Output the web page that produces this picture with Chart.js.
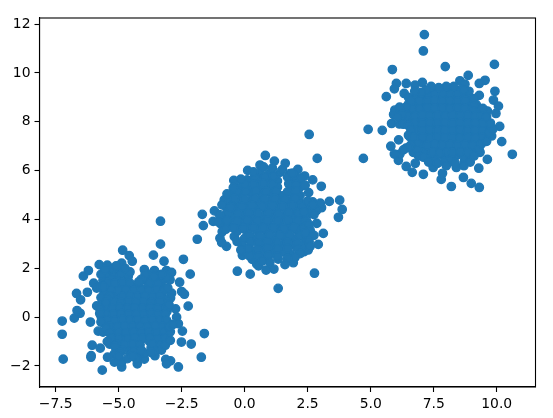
<!DOCTYPE html>
<html>
<head>
<meta charset="utf-8">
<style>
  html, body { margin: 0; padding: 0; background: #fff; }
  canvas { display: block; }
</style>
<script src="https://cdn.jsdelivr.net/npm/chart.js@4/dist/chart.umd.min.js"></script>
</head>
<body>
<canvas id="chart" width="553" height="418"></canvas>
<script>
// points, [x, y], one list per blob
const blobLowerEdge = [
  [-3.34,3.93],[-3.34,2.99],[-3.62,2.54],[-3.2,2.29],[-2.43,2.37],[-2.16,1.76],[-2.58,1.43],[-2.5,1.05],
  [-2.39,0.94],[-2.24,0.45],[-2.74,0.34],[-2.7,0],[-2.63,-0.27],[-2.47,-0.57],[-1.6,-0.67],[-2.51,-1.02],
  [-2.12,-1.1],[-1.72,-1.64],[-2.63,-2.04],[-2.94,-1.79],[-3.13,-1.73],[-3.1,-1.91],[-3.56,-1.58],[-3.98,-1.72],
  [-4.26,-1.91],[-4.88,-2.04],[-4.88,-1.84],[-5.17,-1.84],[-5.17,-1.51],[-5.44,-1.64],[-5.65,-2.17],[-6.1,-1.64],
  [-6.09,-1.58],[-5.73,-1.27],[-6.05,-1.15],[-5.36,-1.1],[-7.2,-1.72],[-7.24,-0.7],[-7.24,-0.16],[-6.76,-0.04],
  [-6.53,0.16],[-6.65,0.27],[-6.12,-0.2],[-5.81,-0.57],[-5.62,-0.61],[-5.87,0.46],[-5.63,0.63],[-6.51,0.71],
  [-6.67,0.97],[-6.24,1.02],[-5.99,1.39],[-5.87,1.19],[-6.4,1.68],[-6.2,1.91],[-5.77,2.15],[-5.45,2.13],
  [-4.88,2.21],[-4.84,2.74],[-4.58,2.52],[-4.46,2.29],[-3.98,1.95],[-3.58,1.91],[-3.1,1.91],[-2.9,1.83],
  [-2.96,1.53],[-3.23,1.53],[-2.9,0.98],[-2.94,0.78],[-4.68,1.8]
];
const blobLowerCore = [
  [-5.3,1.92],[-5.02,1.88],[-5.5,1.72],[-5.18,1.68],[-4.92,1.74],[-4.62,1.66],[-5.62,1.5],[-5.28,1.53],[-5.03,1.47],
  [-4.7,1.44],[-3.92,1.52],[-3.61,1.48],[-3.32,1.54],[-5.42,1.26],[-5.1,1.22],[-4.81,1.27],[-4.49,1.24],[-4.2,1.3],
  [-3.88,1.21],[-3.6,1.27],[-3.31,1.23],[-5.58,1.02],[-5.2,0.98],[-4.92,1.04],[-4.58,0.97],[-4.3,1.03],[-4.02,0.96],
  [-3.7,1.02],[-3.42,0.97],[-5.02,0.76],[-4.71,0.73],[-4.39,0.78],[-4.1,0.72],[-3.79,0.77],[-3.5,0.73],[-3.18,0.76],
  [-5.41,0.52],[-5.09,0.47],[-4.8,0.53],[-4.52,0.48],[-4.18,0.51],[-3.9,0.47],[-3.59,0.53],[-3.2,0.48],[-5.6,0.23],
  [-5.3,0.28],[-4.98,0.22],[-4.71,0.27],[-4.42,0.23],[-4.09,0.28],[-3.81,0.22],[-3.38,0.27],[-3.08,0.24],[-5.69,0.02],
  [-5.38,-0.03],[-5.11,0.03],[-4.79,-0.02],[-4.51,0.02],[-4.2,-0.03],[-3.91,0.02],[-3.6,-0.02],[-3.31,0.03],[-5.58,-0.24],
  [-5.32,-0.28],[-4.99,-0.23],[-4.69,-0.27],[-4.41,-0.22],[-4.11,-0.28],[-3.79,-0.23],[-3.52,-0.27],[-3.09,-0.24],[-2.95,-0.32],
  [-5.2,-0.48],[-4.88,-0.53],[-4.61,-0.47],[-4.29,-0.52],[-4.01,-0.48],[-3.69,-0.53],[-3.41,-0.47],[-5.1,-0.74],[-4.81,-0.78],
  [-4.49,-0.72],[-4.21,-0.77],[-3.89,-0.73],[-3.61,-0.78],[-3.29,-0.74],[-5.19,-0.98],[-4.91,-1.03],[-4.59,-0.97],[-4.31,-1.02],
  [-3.79,-0.98],[-3.52,-1.03],[-3.2,-0.99],[-4.71,-1.23],[-4.29,-1.27],[-3.71,-1.24],[-3.41,-1.22],[-4.52,-1.48],[-4.19,-1.52],[-3.95,-1.47]
];
const blobLowerFill = [
  [-5.45,1.41],[-5.15,1.38],[-4.85,1.42],[-4.55,1.39],[-3.75,1.41],[-3.45,1.38],[-5.3,1.11],[-5,1.08],[-4.7,1.12],
  [-4.4,1.09],[-4.1,1.11],[-3.8,1.08],[-3.5,1.12],[-3.2,1.09],[-5.35,0.87],[-4.85,0.84],[-4.55,0.88],[-4.25,0.85],
  [-3.95,0.87],[-3.65,0.84],[-3.35,0.88],[-5.2,0.62],[-4.9,0.6],[-4.6,0.64],[-4.3,0.61],[-4,0.63],[-3.7,0.6],
  [-3.35,0.64],[-3.05,0.6],[-5.5,0.38],[-5.25,0.35],[-4.95,0.39],[-4.65,0.36],[-4.35,0.38],[-4.05,0.35],[-3.75,0.39],
  [-3.45,0.36],[-3.1,0.38],[-5.5,0.12],[-5.2,0.1],[-4.9,0.14],[-4.6,0.11],[-4.3,0.13],[-4,0.1],[-3.7,0.14],
  [-3.45,0.11],[-3.15,0.12],[-5.45,-0.12],[-5.15,-0.14],[-4.85,-0.1],[-4.55,-0.13],[-4.25,-0.11],[-3.95,-0.14],[-3.65,-0.1],
  [-3.35,-0.13],[-3.1,-0.12],[-5.35,-0.38],[-5.05,-0.4],[-4.75,-0.36],[-4.45,-0.39],[-4.15,-0.37],[-3.85,-0.4],[-3.55,-0.36],
  [-3.25,-0.39],[-5,-0.62],[-4.7,-0.64],[-4.4,-0.6],[-4.1,-0.63],[-3.8,-0.61],[-3.5,-0.64],[-3.2,-0.6],[-5,-0.87],
  [-4.65,-0.89],[-4.35,-0.85],[-4.05,-0.88],[-3.75,-0.86],[-3.45,-0.89],[-3.15,-0.85],[-5.05,-1.12],[-4.75,-1.14],[-4.45,-1.1],
  [-4.15,-1.13],[-3.65,-1.11],[-3.35,-1.14],[-4.85,-1.37],[-4.4,-1.39],[-4.1,-1.35],[-3.55,-1.38],[-3.75,1.75],[-3.4,1.72],
  [-3.2,1.76],[-5.2,2]
];
const blobLowerRim = [
  [-5.7,1.75],[-5.55,1.95],[-5.75,1.25],[-5.6,1.25],[-5.7,0.8],[-5.45,0.75],[-5.5,0.6],[-5.75,0.35],[-5.75,0.15],
  [-5.7,-0.2],[-5.5,-0.45],[-5.35,-0.65],[-5.3,-0.85],[-5.45,-1],[-5.15,-1.2],[-4.95,-1.45],[-5,-1.6],[-4.65,-1.7],
  [-4.3,-1.7],[-4.45,-1.6],[-3.7,-1.45],[-3.3,-1.35],[-3.15,-1.15],[-2.95,-0.95],[-2.95,-0.6],[-3,-0.4],[-2.85,-0.3],
  [-3,0.5],[-3.05,1.2],[-3.1,1.65],[-3.3,1.75],[-3.6,1.65],[-3.95,1.75],[-4.1,1.55],[-4.2,1.45],[-4.55,1.85],[-4.75,2],[-5.1,2.1]
];
const blobMiddleEdge = [
  [2.56,7.48],[2.88,6.5],[0.82,6.62],[1.18,6.39],[1.61,6.3],[2.11,6.05],[2.38,5.78],[2.7,5.62],[3.04,5.36],
  [2.54,5.1],[3.36,4.74],[3.77,4.79],[3.87,4.41],[3.72,4.09],[3.05,4.48],[2.86,3.84],[3.12,3.43],[2.92,2.98],
  [2.77,1.8],[1.33,1.18],[1.93,2.23],[1.33,2.38],[1.16,1.97],[0.85,1.93],[0.22,1.76],[-0.29,1.88],[0.48,2.17],
  [-0.09,2.53],[-0.72,2.9],[-0.91,3.05],[-0.98,3.23],[-0.89,3.5],[-0.41,3.3],[-1.88,3.19],[-1.64,3.75],[-1.25,3.92],
  [-1.68,4.21],[-1.2,4.35],[-0.81,4.8],[-0.43,5.6],[0.12,6.01],[0.61,6.23],[2.35,2.68],[2.52,2.75],[1.8,2.61]
];
const blobMiddleCore = [
  [0.6,5.92],[0.95,5.87],[1.4,5.93],[1.8,5.88],[0.1,5.62],[0.5,5.57],[0.9,5.63],[1.3,5.58],[1.9,5.61],[2.2,5.57],
  [-0.2,5.32],[0.2,5.27],[0.6,5.33],[1,5.28],[1.3,5.32],[1.9,5.28],[2.2,5.33],[-0.5,5.02],[-0.1,4.97],[0.3,5.03],
  [0.7,4.98],[1.1,5.02],[1.5,4.97],[1.9,5.03],[2.2,4.98],[-0.6,4.72],[-0.2,4.67],[0.2,4.73],[0.6,4.68],[1,4.72],
  [1.4,4.67],[1.8,4.73],[2.2,4.68],[2.7,4.72],[3,4.67],[-0.7,4.42],[-0.35,4.37],[0.05,4.43],[0.45,4.38],[0.85,4.42],
  [1.25,4.37],[1.65,4.43],[2.05,4.38],[2.5,4.42],[2.85,4.37],[-0.85,4.12],[-0.5,4.07],[-0.1,4.13],[0.3,4.08],[0.7,4.12],
  [1.1,4.07],[1.5,4.13],[1.9,4.08],[2.3,4.12],[-0.95,3.82],[-0.6,3.77],[-0.2,3.83],[0.2,3.78],[0.6,3.82],[1,3.77],
  [1.4,3.83],[1.8,3.78],[2.2,3.82],[-0.3,3.52],[0.1,3.47],[0.5,3.53],[0.9,3.48],[1.3,3.52],[1.7,3.47],[2.1,3.53],
  [0,3.22],[0.4,3.17],[0.8,3.23],[1.2,3.18],[1.6,3.22],[2,3.17],[2.4,3.23],[-0.1,2.97],[0.7,2.92],[1.1,2.98],
  [1.5,2.93],[1.9,2.97],[2.3,2.92],[0,2.67],[0.35,2.62],[0.75,2.68],[1.1,2.63],[1.5,2.67],[0.3,2.37],[0.6,2.33],[0.85,2.38]
];
const blobMiddleFill = [
  [0.4,5.75],[0.8,5.73],[1.15,5.77],[1.7,5.74],[2,5.76],[0,5.45],[0.35,5.43],[0.75,5.47],[1.1,5.44],[1.75,5.46],
  [2.05,5.43],[-0.3,5.15],[0.05,5.13],[0.45,5.17],[0.85,5.14],[1.25,5.16],[1.7,5.13],[2.05,5.17],[-0.4,4.85],[0,4.83],
  [0.4,4.87],[0.8,4.84],[1.2,4.86],[1.6,4.83],[2,4.87],[-0.5,4.55],[-0.1,4.53],[0.3,4.57],[0.7,4.54],[1.1,4.56],
  [1.5,4.53],[1.9,4.57],[2.3,4.54],[2.65,4.56],[-0.65,4.25],[-0.25,4.23],[0.15,4.27],[0.55,4.24],[0.95,4.26],[1.35,4.23],
  [1.75,4.27],[2.15,4.24],[2.6,4.26],[-0.7,3.95],[-0.3,3.93],[0.1,3.97],[0.5,3.94],[0.9,3.96],[1.3,3.93],[1.7,3.97],
  [2.1,3.94],[2.45,3.96],[-0.45,3.65],[-0.05,3.63],[0.35,3.67],[0.75,3.64],[1.15,3.66],[1.55,3.63],[1.95,3.67],[2.35,3.64],
  [0.2,3.35],[0.6,3.33],[1,3.37],[1.4,3.34],[1.8,3.36],[2.2,3.33],[2.6,3.37],[0.25,3.05],[0.55,3.03],[0.9,3.07],
  [1.3,3.04],[1.7,3.06],[2.1,3.03],[2.55,3.07],[0.15,2.8],[0.5,2.78],[0.9,2.82],[1.3,2.79],[1.7,2.81],[2.1,2.78],
  [0.2,2.5],[0.55,2.48],[0.95,2.52],[1.3,2.49]
];
const blobMiddleRim = [
  [0.35,5.95],[0.75,6.15],[1.1,6.1],[1.5,6.05],[1.9,5.9],[2.25,5.7],[2.4,5.4],[-0.15,5.65],[-0.45,5.3],[-0.7,5.05],
  [-0.9,4.6],[-1,4.2],[2.5,4.75],[2.7,4.6],[2.35,4.3],[2.75,4.2],[2.55,3.8],[2.6,3.55],[2.4,3.45],[2.75,3.35],
  [2.55,3.1],[2.6,2.9],[2.2,2.6],[2,2.45],[1.7,2.4],[1.6,2.15],[0.55,2.1],[0.7,2.3],[1,2.25],[-0.15,2.75],
  [-0.3,3.1],[-0.55,4.5],[-1.05,3.9],[-0.75,3.6]
];
const blobUpperEdge = [
  [7.13,11.57],[7.09,10.9],[7.96,10.26],[9.91,10.35],[5.86,10.14],[8.87,9.9],[9.54,9.7],[9.31,9.57],[6.02,9.57],
  [5.94,9.35],[6.41,9.57],[6.76,9.5],[7.05,9.61],[5.62,9.03],[6.33,9.16],[9.93,9.25],[9.31,9.08],[9.87,8.89],
  [10.07,8.64],[9.19,8.7],[9.63,8.44],[9.97,8.34],[5.96,8.48],[5.91,8.3],[5.83,7.93],[6.14,7.91],[4.9,7.69],
  [5.46,7.65],[10.12,7.81],[9.8,7.42],[10.2,7.19],[10.62,6.67],[9.63,6.46],[9.34,6.75],[9.29,6.1],[9.31,5.31],
  [8.99,5.48],[8.68,5.72],[8.2,5.35],[7.8,5.64],[7.85,5.89],[8.4,6.13],[7.48,6.13],[7.09,5.85],[6.65,5.93],
  [6.41,6.17],[6.77,6.3],[6.1,6.42],[4.71,6.5],[5.8,7],[6.11,7.26],[6.16,6.68],[5.94,6.68],[6.56,7.39],
  [6.69,6.75],[7.22,6.61],[8.72,6.37],[8.54,9.68],[8.74,9.54],[8.87,9.05]
];
const blobUpperCore = [
  [7.4,9.32],[7.7,9.27],[8,9.33],[8.4,9.28],[8.6,9.32],[6.8,9.02],[7.1,8.97],[7.4,9.03],[7.7,8.98],[8,9.02],
  [8.3,8.97],[8.6,9.03],[6.5,8.72],[6.8,8.67],[7.1,8.73],[7.4,8.68],[7.7,8.72],[8,8.67],[8.3,8.73],[8.6,8.68],
  [8.9,8.72],[6.3,8.42],[6.6,8.37],[6.9,8.43],[7.2,8.38],[7.5,8.42],[7.8,8.37],[8.1,8.43],[8.4,8.38],[8.7,8.42],
  [9,8.37],[9.3,8.43],[6.2,8.12],[6.5,8.07],[6.8,8.13],[7.1,8.08],[7.4,8.12],[7.7,8.07],[8,8.13],[8.3,8.08],
  [8.6,8.12],[8.9,8.07],[9.2,8.13],[9.5,8.08],[6.9,7.82],[7.2,7.77],[7.5,7.83],[7.8,7.78],[8.1,7.82],[8.4,7.77],
  [8.7,7.83],[9,7.78],[9.3,7.82],[9.6,7.77],[6.9,7.52],[7.2,7.47],[7.5,7.53],[7.8,7.48],[8.1,7.52],[8.4,7.47],
  [8.7,7.53],[9,7.48],[9.3,7.52],[9.6,7.47],[6.8,7.22],[7.1,7.17],[7.4,7.23],[7.7,7.18],[8,7.22],[8.3,7.17],
  [8.6,7.23],[8.9,7.18],[9.2,7.22],[6.4,6.92],[7,6.87],[7.3,6.93],[7.6,6.88],[7.9,6.92],[8.2,6.87],[8.5,6.93],
  [8.8,6.88],[9.1,6.92],[7.3,6.62],[7.6,6.57],[7.9,6.63],[8.1,6.58],[8.4,6.62],[8.7,6.57],[9,6.63],[7.5,6.42],[7.9,6.37],[8.2,6.43]
];
const blobUpperFill = [
  [7.25,9.15],[7.55,9.13],[7.85,9.17],[8.2,9.14],[8.45,9.16],[6.95,8.85],[7.25,8.83],[7.55,8.87],[7.85,8.84],[8.15,8.86],
  [8.45,8.83],[8.75,8.87],[6.65,8.55],[6.95,8.53],[7.25,8.57],[7.55,8.54],[7.85,8.56],[8.15,8.53],[8.45,8.57],[8.75,8.54],
  [9.05,8.56],[6.45,8.25],[6.75,8.23],[7.05,8.27],[7.35,8.24],[7.65,8.26],[7.95,8.23],[8.25,8.27],[8.55,8.24],[8.85,8.26],
  [9.15,8.23],[9.4,8.27],[6.75,7.95],[7.05,7.93],[7.35,7.97],[7.65,7.94],[7.95,7.96],[8.25,7.93],[8.55,7.97],[8.85,7.94],
  [9.15,7.96],[9.45,7.93],[6.75,7.65],[7.05,7.63],[7.35,7.67],[7.65,7.64],[7.95,7.66],[8.25,7.63],[8.55,7.67],[8.85,7.64],
  [9.15,7.66],[9.45,7.63],[7.05,7.35],[7.35,7.33],[7.65,7.37],[7.95,7.34],[8.25,7.36],[8.55,7.33],[8.85,7.37],[9.15,7.34],
  [9.45,7.36],[6.95,7.05],[7.25,7.03],[7.55,7.07],[7.85,7.04],[8.15,7.06],[8.45,7.03],[8.75,7.07],[9.05,7.04],[7.45,6.75],
  [7.75,6.73],[8.05,6.77],[8.25,6.74],[8.55,6.76],[8.85,6.73]
];
const blobUpperRim = [
  [6.5,9],[6.6,8.85],[6.4,8.6],[6.15,8.6],[6.25,8.3],[6.05,8.2],[6.3,7.9],[6.5,7.85],[6.6,7.65],[6.5,7.45],
  [6.7,7.35],[6.85,7.1],[6.6,7.05],[6.5,6.95],[6.3,6.85],[6.85,6.85],[6.9,6.6],[7.1,6.55],[7.3,6.35],[7.65,6.3],
  [8,6.2],[8.35,6.3],[8.7,6.2],[8.95,6.35],[9.1,6.6],[9.3,6.9],[9.4,7.1],[9.6,7.2],[9.7,7.55],[9.85,7.7],
  [9.75,7.95],[9.6,8.2],[9.45,8.55],[9.1,8.75],[9.1,8.95],[8.9,9.25],[8.7,9.3],[8.3,9.45],[8,9.45],[7.7,9.4],
  [7.4,9.45],[7.2,9.3],[7,9.2],[6.75,9.25]
];

const xTicks = [-7.5, -5, -2.5, 0, 2.5, 5, 7.5, 10];
const xTickLabels = ['\u22127.5', '\u22125.0', '\u22122.5', '0.0', '2.5', '5.0', '7.5', '10.0'];
const yTicks = [-2, 0, 2, 4, 6, 8, 10, 12];
const yTickLabels = ['\u22122', '0', '2', '4', '6', '8', '10', '12'];

const allPoints = [].concat(
  blobLowerEdge, blobLowerCore, blobLowerFill, blobLowerRim,
  blobMiddleEdge, blobMiddleCore, blobMiddleFill, blobMiddleRim,
  blobUpperEdge, blobUpperCore, blobUpperFill, blobUpperRim
).map(p => ({ x: p[0], y: p[1] }));

// top and right spines, the axes only draw their own border
const frame = {
  id: 'frame',
  afterDraw(chart) {
    const a = chart.chartArea, c = chart.ctx;
    c.save();
    c.strokeStyle = '#000';
    c.lineWidth = 1.1;
    c.strokeRect(a.left, a.top, a.right - a.left, a.bottom - a.top);
    c.restore();
  }
};

const tickFont = { family: 'DejaVu Sans', size: 13.9 };

new Chart(document.getElementById('chart').getContext('2d'), {
  type: 'scatter',
  data: {
    datasets: [{
      data: allPoints,
      backgroundColor: '#1f77b4',
      borderColor: '#1f77b4',
      borderWidth: 1.4,
      pointRadius: 4.17,
      clip: false
    }]
  },
  options: {
    responsive: false,
    animation: false,
    layout: { padding: { top: 18, right: 17.5, left: 0, bottom: 0 } },
    plugins: { legend: { display: false }, tooltip: { enabled: false } },
    scales: {
      x: {
        min: -8.14,
        max: 11.54,
        afterBuildTicks: axis => { axis.ticks = xTicks.map(v => ({ value: v })); },
        afterFit: axis => { axis.height = 31; },
        grid: { drawOnChartArea: false, drawTicks: true, tickLength: 5, tickColor: '#000', tickWidth: 1.1 },
        border: { color: '#000', width: 1.1 },
        ticks: {
          callback: (v, i) => xTickLabels[i],
          color: '#000',
          font: tickFont,
          padding: 4,
          maxRotation: 0,
          autoSkip: false
        }
      },
      y: {
        min: -2.86,
        max: 12.25,
        afterBuildTicks: axis => { axis.ticks = yTicks.map(v => ({ value: v })); },
        afterFit: axis => { axis.width = 39.5; },
        grid: { drawOnChartArea: false, drawTicks: true, tickLength: 5, tickColor: '#000', tickWidth: 1.1 },
        border: { color: '#000', width: 1.1 },
        ticks: {
          callback: (v, i) => yTickLabels[i],
          color: '#000',
          font: tickFont,
          padding: 4,
          autoSkip: false
        }
      }
    }
  },
  plugins: [frame]
});
</script>
</body>
</html>
